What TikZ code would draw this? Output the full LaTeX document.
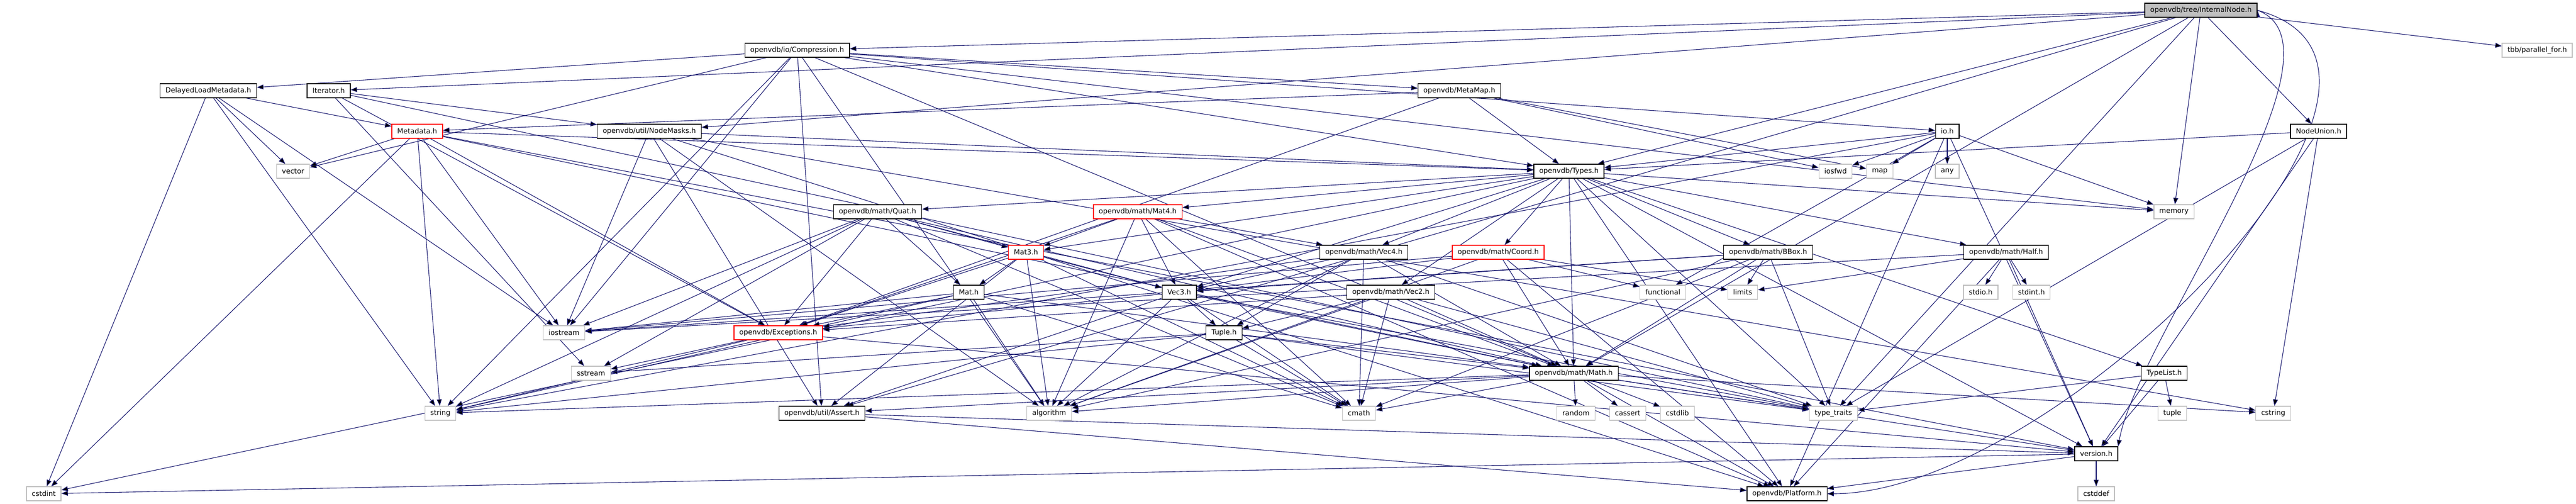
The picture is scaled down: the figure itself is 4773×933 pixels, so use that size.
\documentclass[tikz,border=0pt]{standalone}
\usepackage{fontspec}
\newfontfamily\hdrfont{DejaVu Sans}
\usetikzlibrary{arrows.meta, positioning, backgrounds}
\definecolor{depblue}{HTML}{191970}
\definecolor{sysgray}{HTML}{BFBFBF}

\begin{document}
\begin{tikzpicture}[x=1pt, y=-1pt,
  every node/.style={font=\hdrfont\fontsize{13}{15}\selectfont},
  hdr/.style={rectangle, draw=black, line width=1.3pt, fill=white, minimum height=26pt, inner xsep=10pt, inner ysep=0pt},
  hdrred/.style={hdr, draw=red},
  hdrsys/.style={hdr, draw=sysgray},
  hdrroot/.style={hdr, fill=sysgray},
  dep/.style={draw=depblue, line width=1.1pt, -{Triangle[length=12pt, width=9pt]}}]

    \useasboundingbox (0,0) rectangle (4773,933);

    \node[hdrroot] (inode) at (4078,19) {openvdb/tree/InternalNode.h};
    \node[hdr] (compr) at (1477,93) {openvdb/io/Compression.h};
    \node[hdrsys] (tbb) at (4701,93) {tbb/parallel\_for.h};
    \node[hdr] (dlm) at (386,168) {DelayedLoadMetadata.h};
    \node[hdr] (iter) at (609,168) {Iterator.h};
    \node[hdr] (metamap) at (2704,168) {openvdb/MetaMap.h};
    \node[hdrred] (metadata) at (773,243) {Metadata.h};
    \node[hdr] (masks) at (1203,243) {openvdb/util/NodeMasks.h};
    \node[hdr] (ioh) at (3608,243) {io.h};
    \node[hdr] (nunion) at (4296,243) {NodeUnion.h};
    \node[hdrsys] (vector) at (543,317) {vector};
    \node[hdr] (types) at (2907,317) {openvdb/Types.h};
    \node[hdrsys] (iosfwd) at (3401,317) {iosfwd};
    \node[hdrsys] (map) at (3483,317) {map};
    \node[hdrsys] (any) at (3608,317) {any};
    \node[hdr] (quat) at (1626,392) {openvdb/math/Quat.h};
    \node[hdrred] (mat4) at (2108,392) {openvdb/math/Mat4.h};
    \node[hdrsys] (memory) at (4028,392) {memory};
    \node[hdrred] (mat3) at (1901,467) {Mat3.h};
    \node[hdr] (vec4) at (2527,467) {openvdb/math/Vec4.h};
    \node[hdrred] (coord) at (2776,467) {openvdb/math/Coord.h};
    \node[hdr] (bbox) at (3276,467) {openvdb/math/BBox.h};
    \node[hdr] (half) at (3717,467) {openvdb/math/Half.h};
    \node[hdr] (mat) at (1795,541) {Mat.h};
    \node[hdr] (vec3) at (2185,541) {Vec3.h};
    \node[hdr] (vec2) at (2577,541) {openvdb/math/Vec2.h};
    \node[hdrsys] (functional) at (3081,541) {functional};
    \node[hdrsys] (limits) at (3229,541) {limits};
    \node[hdrsys] (stdio) at (3670,541) {stdio.h};
    \node[hdrsys] (stdint) at (3764,541) {stdint.h};
    \node[hdrsys] (iostream) at (1045,616) {iostream};
    \node[hdrred] (except) at (1442,616) {openvdb/Exceptions.h};
    \node[hdr] (tuple) at (2268,616) {Tuple.h};
    \node[hdrsys] (sstream) at (1095,691) {sstream};
    \node[hdr] (math) at (2916,691) {openvdb/math/Math.h};
    \node[hdr] (typelist) at (4010,691) {TypeList.h};
    \node[hdrsys] (string) at (816,765) {string};
    \node[hdr] (assert) at (1523,765) {openvdb/util/Assert.h};
    \node[hdrsys] (algorithm) at (1944,765) {algorithm};
    \node[hdrsys] (cmath) at (2518,765) {cmath};
    \node[hdrsys] (random) at (2920,765) {random};
    \node[hdrsys] (cassert) at (3016,765) {cassert};
    \node[hdrsys] (cstdlib) at (3108,765) {cstdlib};
    \node[hdrsys] (typetraits) at (3397,765) {type\_traits};
    \node[hdrsys] (tuplestd) at (4025,765) {tuple};
    \node[hdrsys] (cstring) at (4212,765) {cstring};
    \node[hdr] (version) at (3884,840) {version.h};
    \node[hdrsys] (cstdint) at (81,914) {cstdint};
    \node[hdr] (platform) at (3311,914) {openvdb/Platform.h};
    \node[hdrsys] (cstddef) at (3884,914) {cstddef};

    \begin{pgfonlayer}{background}
    \path[dep]
    (inode) edge (compr) (inode) edge (masks) (inode) edge (iter) (inode) edge (types)
    (inode) edge (nunion) (inode) edge (tbb) (inode) edge (memory) (inode) edge (math)
    (inode) edge (assert) (inode) edge (typetraits)
    (inode.east) edge[out=-20, in=80, looseness=0.6] (version.north east)
    (inode.east) edge[out=-15, in=0, looseness=0.9] (platform.east)
    (compr) edge (types) (compr) edge (metamap) (compr) edge (math) (compr) edge (assert)
    (compr) edge (ioh) (compr) edge (dlm) (compr) edge (algorithm) (compr) edge (iostream)
    (compr) edge (memory) (compr) edge (string) (compr) edge (vector)
    (dlm) edge (metadata) (dlm) edge (cstdint) (dlm) edge (iostream) (dlm) edge (string) (dlm) edge (vector)
    (iter) edge (sstream) (iter) edge (typetraits) (iter) edge (masks) (iter) edge (except)
    (masks) edge (platform) (masks) edge (types) (masks) edge (assert) (masks) edge (algorithm)
    (masks) edge (cstring) (masks) edge (iostream)
    (metamap) edge (metadata) (metamap) edge (types) (metamap) edge (except) (metamap) edge (iosfwd) (metamap) edge (map)
    (ioh) edge (platform) (ioh) edge (types) (ioh) edge (version) (ioh) edge (any) (ioh) edge (functional)
    (ioh) edge (iosfwd) (ioh) edge (map) (ioh) edge (memory) (ioh) edge (string)
    (metadata) edge (version) (metadata) edge (except) (metadata) edge (types) (metadata) edge (math)
    (metadata) edge (cstdint) (metadata) edge (iostream) (metadata) edge (string) (metadata) edge (vector)
    (types) edge (version) (types) edge (platform) (types) edge (typelist) (types) edge (math)
    (types) edge (bbox) (types) edge (quat) (types) edge (vec2) (types) edge (vec3) (types) edge (vec4)
    (types) edge (mat3) (types) edge (mat4) (types) edge (coord) (types) edge (half)
    (types) edge (cstdint) (types) edge (memory) (types) edge (typetraits)
    (quat) edge (mat) (quat) edge (mat3) (quat) edge (math) (quat) edge (vec3) (quat) edge (except)
    (quat) edge (cmath) (quat) edge (iostream) (quat) edge (sstream) (quat) edge (string)
    (mat4) edge (except) (mat4) edge (platform) (mat4) edge (math) (mat4) edge (mat3) (mat4) edge (vec3)
    (mat4) edge (vec4) (mat4) edge (algorithm) (mat4) edge (cmath)
    (mat3) edge (except) (mat3) edge (vec3) (mat3) edge (mat) (mat3) edge (algorithm) (mat3) edge (cmath) (mat3) edge (assert)
    (mat) edge (math) (mat) edge (except) (mat) edge (algorithm) (mat) edge (cmath) (mat) edge (iostream) (mat) edge (string)
    (vec3) edge (except) (vec3) edge (math) (vec3) edge (tuple) (vec3) edge (algorithm) (vec3) edge (cmath)
    (vec3) edge (typetraits) (vec3) edge (assert)
    (tuple) edge (math) (tuple) edge (cmath) (tuple) edge (sstream) (tuple) edge (string) (tuple) edge (typetraits)
    (vec4) edge (except) (vec4) edge (math) (vec4) edge (tuple) (vec4) edge (vec3) (vec4) edge (algorithm)
    (vec4) edge (cmath) (vec4) edge (typetraits)
    (vec2) edge (except) (vec2) edge (math) (vec2) edge (tuple) (vec2) edge (algorithm) (vec2) edge (cmath) (vec2) edge (typetraits)
    (coord) edge (functional) (coord) edge (algorithm) (coord) edge (iostream) (coord) edge (limits)
    (coord) edge (platform) (coord) edge (math) (coord) edge (vec3)
    (bbox) edge (math) (bbox) edge (vec3) (bbox) edge (algorithm) (bbox) edge (cmath) (bbox) edge (iostream)
    (bbox) edge (limits) (bbox) edge (typetraits)
    (half) edge (platform) (half) edge (version) (half) edge (iostream) (half) edge (limits) (half) edge (stdint) (half) edge (stdio)
    (math) edge (platform) (math) edge (version) (math) edge (assert) (math) edge (algorithm) (math) edge (cassert)
    (math) edge (cmath) (math) edge (cstdlib) (math) edge (cstring) (math) edge (random) (math) edge (string) (math) edge (typetraits)
    (assert) edge (platform) (assert) edge (version)
    (except) edge (version) (except) edge (sstream) (except) edge (string)
    (typelist) edge (version) (typelist) edge (tuplestd) (typelist) edge (typetraits)
    (version) edge (platform) (version) edge (cstddef) (version) edge (cstdint)
    (nunion) edge (version) (nunion) edge (types) (nunion) edge (cstring) (nunion) edge (typetraits);
    \end{pgfonlayer}
\end{tikzpicture}
\end{document}
